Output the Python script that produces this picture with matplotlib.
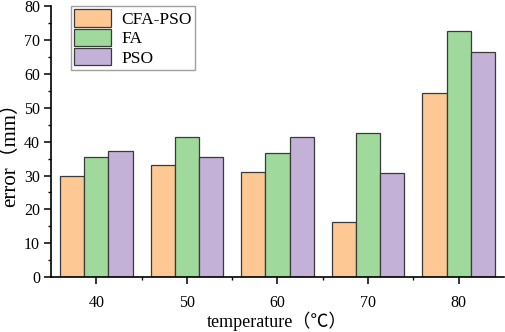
import numpy as np
import matplotlib
matplotlib.use("Agg")
import matplotlib.pyplot as plt
from matplotlib.ticker import MultipleLocator, FixedLocator

plt.rcParams['font.family'] = ['Liberation Serif', 'Noto Sans CJK SC', 'DejaVu Sans']

### data
temperatures = ['40', '50', '60', '70', '80']
cfa_pso = [30.0, 33.2, 31.0, 16.3, 54.2]
fa = [35.4, 41.3, 36.6, 42.4, 72.6]
pso = [37.2, 35.4, 41.3, 30.6, 66.4]

series_names = ['CFA-PSO', 'FA', 'PSO']
colors = ['#FDC893', '#9FD99B', '#C3B1D7']

fig = plt.figure(figsize=(5.05, 3.32), dpi=100)
ax = fig.add_axes([0.101, 0.165, 0.897, 0.817])

x = np.arange(len(temperatures))
w = 0.267
for k, (vals, name, col) in enumerate(zip([cfa_pso, fa, pso], series_names, colors)):
    ax.bar(x + (k - 1) * w, vals, width=w, color=col, edgecolor='#3a3a3a',
           linewidth=0.9, label=name)

ax.set_xlim(-0.5, len(temperatures) - 0.5)
ax.set_ylim(0, 80)
ax.set_xticks(x)
ax.set_xticklabels(temperatures)
ax.xaxis.set_minor_locator(FixedLocator(x[:-1] + 0.5))
ax.yaxis.set_major_locator(MultipleLocator(10))
ax.yaxis.set_minor_locator(MultipleLocator(5))

for side in ['top', 'right']:
    ax.spines[side].set_visible(False)
for side in ['left', 'bottom']:
    ax.spines[side].set_linewidth(1.2)

ax.tick_params(axis='both', which='major', direction='out', length=5, width=1.1,
               labelsize=11.5, pad=3)
ax.tick_params(axis='both', which='minor', direction='out', length=2.5, width=1.0)
ax.tick_params(axis='x', which='major', pad=8)

ax.set_xlabel('temperature（℃）', fontsize=13)
ax.set_ylabel('error（mm）', fontsize=15)
ax.xaxis.set_label_coords(0.5, -0.125)
ax.yaxis.set_label_coords(-0.068, 0.47)

leg = ax.legend(loc='upper left', bbox_to_anchor=(0.044, 1.0), fontsize=12.5,
                frameon=True, fancybox=False, edgecolor='#888888',
                handlelength=2.1, handleheight=1.15, handletextpad=0.6,
                labelspacing=0.05, borderpad=0.2, borderaxespad=0.0)
leg.get_frame().set_linewidth(1.0)

fig.savefig('out.png', dpi=100, facecolor='white')
